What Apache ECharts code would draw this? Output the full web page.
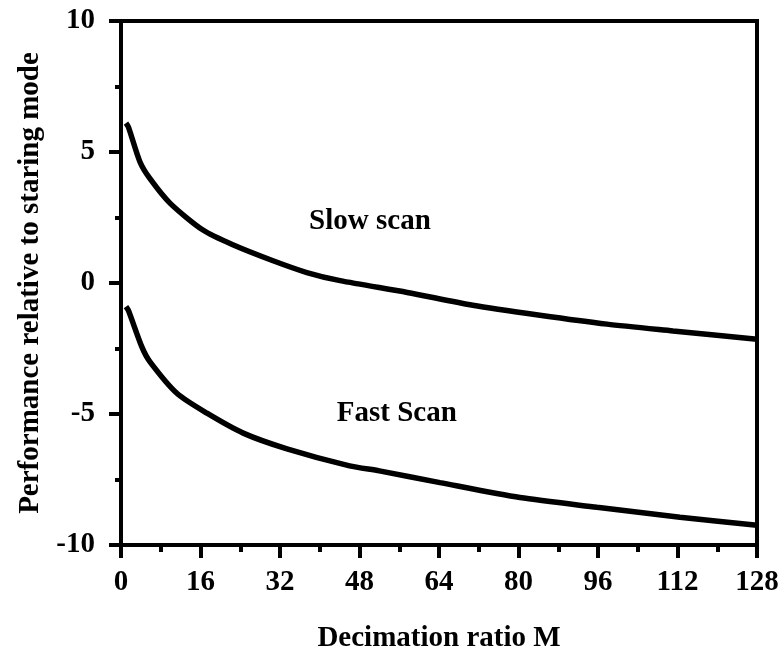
<!DOCTYPE html>
<html>
<head>
<meta charset="utf-8">
<script src="https://cdn.jsdelivr.net/npm/echarts@6/dist/echarts.min.js"></script>
<style>
html,body{margin:0;padding:0;background:#fff;}
#chart{width:784px;height:658px;}
</style>
</head>
<body>
<div id="chart"></div>
<script>
// Decimation ratio M values and performance (dB)
var slowM    = [1, 1.5, 3.8, 5.8, 9.9, 16.5, 22.5, 30.6, 37.4, 44.1, 57.6, 70.8, 84.3, 97.8, 111.1, 128];
var slowPerf = [6.1, 5.95, 4.63, 3.99, 3.04, 2.02, 1.46, 0.85, 0.40, 0.09, -0.36, -0.85, -1.23, -1.57, -1.83, -2.15];
var fastM    = [1, 1.5, 4.2, 5.8, 11.3, 17.3, 24.6, 33.4, 46, 52, 64.2, 80.3, 95.8, 112.5, 128];
var fastPerf = [-0.9, -1.05, -2.44, -3.0, -4.22, -4.97, -5.73, -6.33, -6.98, -7.17, -7.62, -8.19, -8.56, -8.94, -9.25];

var xTicks = [0, 16, 32, 48, 64, 80, 96, 112, 128];
var yTicks = [-10, -5, 0, 5, 10];

var labelNames = ['Slow scan', 'Fast Scan'];
var labelPos = [[50.1, 2.36], [55.5, -4.97]];

function pairs(xs, ys) { return xs.map(function (x, i) { return [x, ys[i]]; }); }

var FONT = '"Liberation Serif", "Times New Roman", serif';
var chart = echarts.init(document.getElementById('chart'), null, {renderer: 'canvas'});
chart.setOption({
  backgroundColor: '#ffffff',
  animation: false,
  grid: {left: 121, right: 27, top: 21, bottom: 108, show: true, borderColor: '#000', borderWidth: 4, backgroundColor: 'transparent'},
  xAxis: {
    type: 'value', min: xTicks[0], max: xTicks[xTicks.length - 1], interval: 16,
    name: 'Decimation ratio M', nameLocation: 'middle', nameGap: 79,
    nameTextStyle: {fontFamily: FONT, fontWeight: 'bold', fontSize: 29, color: '#000'},
    axisLine: {onZero: false, lineStyle: {color: '#000', width: 4}},
    axisTick: {show: true, length: 13, lineStyle: {color: '#000', width: 4}},
    minorTick: {show: true, splitNumber: 2, length: 7, lineStyle: {color: '#000', width: 4}},
    axisLabel: {fontFamily: FONT, fontWeight: 'bold', fontSize: 29, color: '#000', margin: 23},
    splitLine: {show: false}
  },
  yAxis: {
    type: 'value', min: yTicks[0], max: yTicks[yTicks.length - 1], interval: 5,
    name: 'Performance relative to staring mode', nameLocation: 'middle', nameGap: 75,
    nameTextStyle: {fontFamily: FONT, fontWeight: 'bold', fontSize: 29, color: '#000'},
    axisLine: {onZero: false, lineStyle: {color: '#000', width: 4}},
    axisTick: {show: true, length: 12, lineStyle: {color: '#000', width: 4}},
    minorTick: {show: true, splitNumber: 2, length: 6, lineStyle: {color: '#000', width: 4}},
    axisLabel: {fontFamily: FONT, fontWeight: 'bold', fontSize: 29, color: '#000', margin: 26},
    splitLine: {show: false}
  },
  series: [
    {type: 'line', name: 'Slow scan', data: pairs(slowM, slowPerf), showSymbol: false, smooth: 0.25,
     lineStyle: {color: '#000', width: 5.5}},
    {type: 'line', name: 'Fast Scan', data: pairs(fastM, fastPerf), showSymbol: false, smooth: 0.25,
     lineStyle: {color: '#000', width: 5.5}},
    {type: 'scatter', symbolSize: 0, silent: true, itemStyle: {color: '#000', opacity: 1},
     data: labelPos.map(function (p, i) { return {value: p, name: labelNames[i]}; }),
     label: {show: true, position: 'inside', formatter: '{b}', fontFamily: FONT, fontWeight: 'bold', fontSize: 29,
             color: '#000', textBorderWidth: 0, opacity: 1}}
  ]
});
</script>
</body>
</html>
